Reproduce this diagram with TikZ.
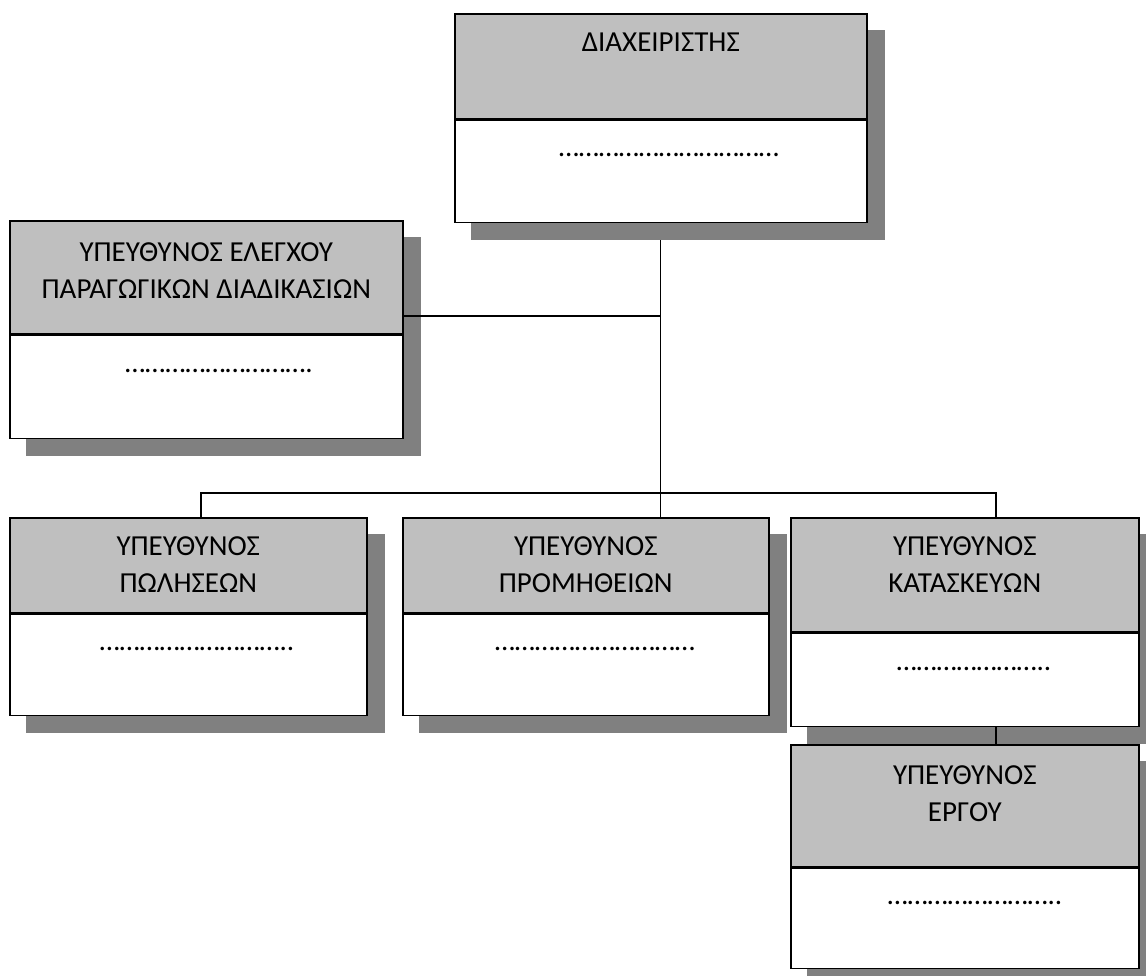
\documentclass[tikz,border=0pt]{standalone}
\usepackage{fontspec}
\setmainfont{Carlito}
\usetikzlibrary{positioning,backgrounds}
\definecolor{headgray}{RGB}{191,191,191}
\definecolor{shadowgray}{RGB}{128,128,128}
\begin{document}
\begin{tikzpicture}[x=1pt,y=-1pt,
  every node/.style={font=\fontsize{29}{37}\selectfont},
  head/.style={draw,line width=1.6pt,fill=headgray,anchor=north west,inner sep=0pt},
  body/.style={head,fill=white},
  title/.style={inner sep=0pt,align=center},
  dots/.style={inner sep=0pt,anchor=base},
  link/.style={line width=1.3pt}]
\useasboundingbox (0,0) rectangle (1146,976);
% manager on top
\node[head,minimum width=412pt,minimum height=105pt] (mgrH) at (454,13) {};
\node[body,minimum width=412pt,minimum height=102pt,below=0pt of mgrH] (mgrB) {};
\node[title,below=20pt of mgrH.north] (mgrT) {ΔΙΑΧΕΙΡΙΣΤΗΣ};
\node[dots] (mgrD) at (669,157) {……………………………};
% production control, left
\node[head,minimum width=393pt,minimum height=113pt] (ctrlH) at (9,220) {};
\node[body,minimum width=393pt,minimum height=103pt,below=0pt of ctrlH] (ctrlB) {};
\node[title,below=22pt of ctrlH.north] (ctrlT) {ΥΠΕΥΘΥΝΟΣ ΕΛΕΓΧΟΥ\\ΠΑΡΑΓΩΓΙΚΩΝ ΔΙΑΔΙΚΑΣΙΩΝ};
\node[dots] (ctrlD) at (219,372) {……………………….};
% sales
\node[head,minimum width=357pt,minimum height=95pt] (salesH) at (9,517) {};
\node[body,minimum width=357pt,minimum height=101pt,below=0pt of salesH] (salesB) {};
\node[title,below=19pt of salesH.north] (salesT) {ΥΠΕΥΘΥΝΟΣ\\ΠΩΛΗΣΕΩΝ};
\node[dots] (salesD) at (197,650) {………………………..};
% procurement
\node[head,minimum width=366pt,minimum height=95pt] (procH) at (402,517) {};
\node[body,minimum width=366pt,minimum height=101pt,below=0pt of procH] (procB) {};
\node[title,below=19pt of procH.north] (procT) {ΥΠΕΥΘΥΝΟΣ\\ΠΡΟΜΗΘΕΙΩΝ};
\node[dots] (procD) at (595,650) {…………………………};
% constructions
\node[head,minimum width=348pt,minimum height=114pt] (consH) at (790,517) {};
\node[body,minimum width=348pt,minimum height=93pt,below=0pt of consH] (consB) {};
\node[title,below=19pt of consH.north] (consT) {ΥΠΕΥΘΥΝΟΣ\\ΚΑΤΑΣΚΕΥΩΝ};
\node[dots] (consD) at (974,670) {…………………..};
% project
\node[head,minimum width=348pt,minimum height=122pt] (projH) at (790,744) {};
\node[body,minimum width=348pt,minimum height=100pt,below=0pt of projH] (projB) {};
\node[title,below=21pt of projH.north] (projT) {ΥΠΕΥΘΥΝΟΣ\\ΕΡΓΟΥ};
\node[dots] (projD) at (975,904) {……………………..};
% shadows behind the boxes
\begin{scope}[on background layer]
\foreach \who in {mgr,ctrl,sales,proc,cons,proj}
  \fill[shadowgray] ([shift={(17,17)}]\who H.north west) rectangle ([shift={(17,17)}]\who B.south east);
\end{scope}
% connectors
\coordinate (side) at (660,316);
\coordinate (busL) at (201,493);
\coordinate (busR) at (996,493);
\draw[link] ([yshift=-17pt]mgrB.south) -- (mgrB.south |- procH.north);
\draw[link] (side -| ctrlH.east) -- (side);
\draw[link] (busL |- salesH.north) -- (busL) -- (busR) -- (busR |- consH.north);
\draw[link] (busR |- consB.south) -- (busR |- projH.north);
\end{tikzpicture}
\end{document}
